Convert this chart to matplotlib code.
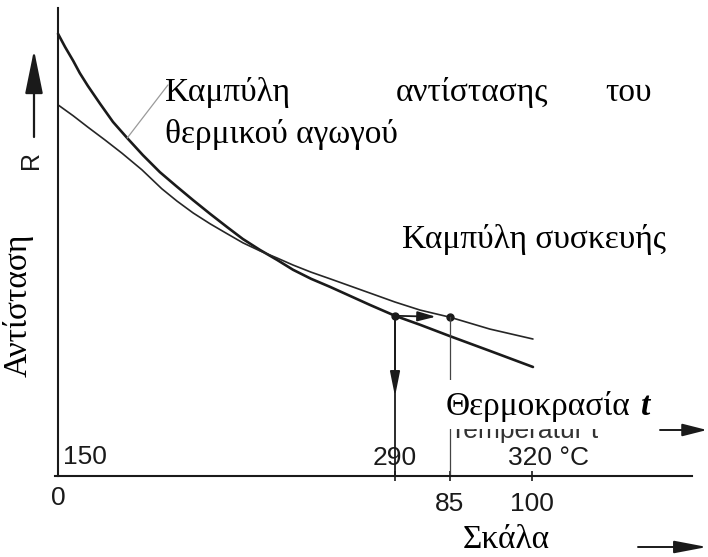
import matplotlib.pyplot as plt
from matplotlib.patches import Rectangle

W, H = 708, 557

# position along the axis (0 .. 100 = "100" mark) and resistance R (arbitrary units)
pos_thermal = [0, 1.5, 3.2, 4.6, 6.3, 8.9, 11.6, 14.6, 17.9, 21.5, 24.9, 28.5, 32.1, 35.7,
               39.0, 42.6, 46.2, 49.6, 53.4, 57.4, 61.6, 65.8, 71.1, 76.4, 82.7, 91.1, 100.2]
R_thermal = [93.3, 90.5, 87.6, 85.0, 82.3, 78.5, 74.7, 71.3, 67.7, 64.1, 61.2, 58.2, 55.3,
             52.5, 50.0, 47.7, 45.6, 43.5, 41.6, 39.9, 38.0, 36.1, 33.8, 31.9, 29.5, 26.4, 23.0]
pos_device = [0, 3.2, 6.3, 9.9, 13.5, 17.7, 21.9, 25.1, 28.5, 32.1, 35.7, 39.0, 42.6,
              46.2, 49.6, 53.4, 57.4, 61.6, 65.8, 71.1, 76.4, 82.7, 91.1, 100.2]
R_device = [78.3, 76.0, 73.6, 70.9, 68.1, 64.6, 60.6, 58.0, 55.5, 53.2, 51.1, 49.2, 47.5,
            46.0, 44.5, 43.0, 41.6, 40.1, 38.6, 36.7, 35.0, 33.5, 31.0, 28.9]

# reading: true temperature point on the conductor curve -> shown value on the device curve
read_pos = [71.1, 82.7]
read_R = [33.8, 33.5]

tick_pos = [71.1, 82.7, 100]
temp_pos = [0, 71.1, 100]
temp_labels = ["150", "290", "320 °C"]
scale_pos = [0, 82.7, 100]
scale_labels = ["0", "85", "100"]

ink = "#1a1a1a"
serif = ["Liberation Serif", "DejaVu Serif"]
sans = ["Liberation Sans Narrow", "Liberation Sans", "DejaVu Sans"]
fs = 24

fig = plt.figure(figsize=(W / 100, H / 100), dpi=100)
ax = fig.add_axes([0, 0, 1, 1])
ax.set_xlim(-58 / 4.74, 650 / 4.74)
ax.set_ylim(-81 / 4.74, 476 / 4.74)

# axes lines
for s in ["top", "right"]:
    ax.spines[s].set_visible(False)
ax.spines["left"].set_position(("data", 0))
ax.spines["bottom"].set_position(("data", 0))
ax.spines["left"].set_bounds(0, 468 / 4.74)
ax.spines["bottom"].set_bounds(-0.6, 634 / 4.74)
for s in ["left", "bottom"]:
    ax.spines[s].set_linewidth(1.5)
    ax.spines[s].set_color(ink)
ax.set_yticks([])
ax.set_xticks(tick_pos)
ax.set_xticklabels([])
ax.tick_params(axis="x", direction="inout", length=7, width=1.2, color=ink)

# curves
ax.plot(pos_thermal, R_thermal, color=ink, lw=1.9, solid_capstyle="round")
ax.plot(pos_device, R_device, color="#262626", lw=1.2, solid_capstyle="round")

# reading construction
ax.plot(read_pos, read_R, "o", color=ink, ms=5)
ax.plot([read_pos[0], read_pos[0]], [read_R[0], 0], color=ink, lw=1.3)
ax.plot([read_pos[1], read_pos[1]], [read_R[1], 0], color="#444444", lw=0.9)
ax.annotate("", xy=(read_pos[0], read_R[0] - 17), xytext=(read_pos[0], read_R[0]),
            arrowprops=dict(arrowstyle="-|>,head_length=1.5,head_width=0.3",
                            mutation_scale=10, color=ink, lw=1.3,
                            shrinkA=0, shrinkB=0))
ax.annotate("", xy=(read_pos[1] - 3, read_R[1] + 0.1), xytext=(read_pos[0], read_R[0]),
            arrowprops=dict(arrowstyle="-|>,head_length=1.1,head_width=0.3",
                            mutation_scale=10, color=ink, lw=1.3,
                            shrinkA=0, shrinkB=0))

# leader line to the conductor curve label
ax.annotate("", xy=(14.6, 71.3), xytext=(23.2, 82.5),
            arrowprops=dict(arrowstyle="-", color="#9a9a9a", lw=0.9,
                            shrinkA=0, shrinkB=0))

# axis numbers
for p, lab in zip(temp_pos, temp_labels):
    if lab == "150":
        ax.text(p + 1.0, 2.5, lab, ha="left", va="baseline", fontsize=19,
                family=sans, color=ink)
    elif lab.startswith("320"):
        ax.text(p - 5.0, 2.3, lab, ha="left", va="baseline", fontsize=19,
                family=sans, color=ink)
    else:
        ax.text(p, 2.3, lab, ha="center", va="baseline", fontsize=19,
                family=sans, color=ink)
for p, lab in zip(scale_pos, scale_labels):
    yb = -6.1 if lab == "0" else -7.4
    ax.text(p, yb, lab, ha="center", va="baseline", fontsize=19,
            family=sans, color=ink)


def fp(x, y):
    return x / W, 1 - y / H


def arrow(x0, x1, y, hl, hw, lw=1.4):
    ax.annotate("", xy=fp(x1, y), xytext=fp(x0, y), xycoords="figure fraction",
                textcoords="figure fraction",
                arrowprops=dict(arrowstyle=f"-|>,head_length={hl},head_width={hw}",
                                mutation_scale=10, color=ink, lw=lw,
                                shrinkA=0, shrinkB=0))


# R arrow on the vertical axis
ax.annotate("", xy=fp(34, 50), xytext=fp(34, 137), xycoords="figure fraction",
            textcoords="figure fraction",
            arrowprops=dict(arrowstyle="-|>,head_length=2.7,head_width=0.55",
                            mutation_scale=10, color=ink, lw=1.6,
                            shrinkA=0, shrinkB=0))
fig.text(*fp(31, 160), "R", rotation=90, ha="center", va="center",
         fontsize=18, family=sans, color=ink)

# original (covered) axis caption and its Greek replacement
fig.text(*fp(598, 438), "Temperatur t", ha="right", va="baseline", fontsize=19,
         family=sans, color="#333333", zorder=3)
fig.patches.append(Rectangle(fp(443, 429), 212 / W, 49 / H, transform=fig.transFigure,
                             facecolor="white", edgecolor="none", zorder=4))
fig.text(*fp(446, 415), "Θερμοκρασία", ha="left", va="baseline", fontsize=fs,
         family=serif, color="black", zorder=5)
fig.text(*fp(641, 415), "t", ha="left", va="baseline", fontsize=fs,
         family=serif, weight="bold", style="italic", color="black", zorder=5)
arrow(660, 707, 430, 1.5, 0.38)

fig.text(*fp(463, 548), "Σκάλα", ha="left", va="baseline", fontsize=fs,
         family=serif, color="black")
arrow(638, 707, 547, 2.0, 0.38)

# curve labels
fig.text(*fp(165, 101), "Καμπύλη", ha="left", va="baseline", fontsize=fs,
         family=serif, color="black")
fig.text(*fp(396, 101), "αντίστασης", ha="left", va="baseline", fontsize=fs,
         family=serif, color="black")
fig.text(*fp(652, 101), "του", ha="right", va="baseline", fontsize=fs,
         family=serif, color="black")
fig.text(*fp(165, 143), "θερμικού αγωγού", ha="left", va="baseline", fontsize=fs,
         family=serif, color="black")
fig.text(*fp(402, 248), "Καμπύλη συσκευής", ha="left", va="baseline", fontsize=fs,
         family=serif, color="black")
fig.text(*fp(34, 305), "Αντίσταση", rotation=90, ha="right", va="center",
         fontsize=fs, family=serif, color="black")

fig.savefig("out.png", dpi=100)
